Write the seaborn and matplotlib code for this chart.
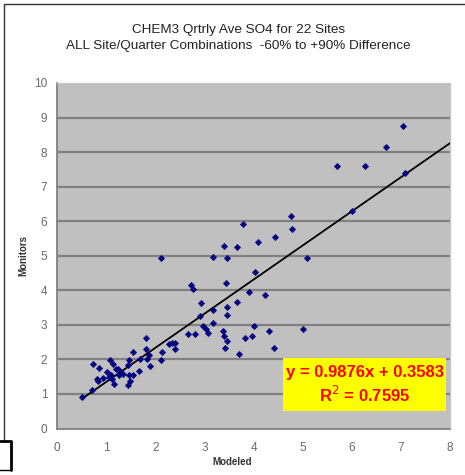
import matplotlib
matplotlib.use("Agg")
import matplotlib.pyplot as plt
import seaborn as sns
import pandas as pd
from matplotlib.patches import Rectangle
from matplotlib.lines import Line2D

# Quarterly average SO4: modeled vs monitored, all site/quarter combinations
modeled = [0.50, 0.71, 0.74, 0.86, 0.82, 0.84, 0.94, 1.07, 1.15, 1.02, 1.05, 1.09,
           1.11, 1.16, 1.20, 1.25, 1.26, 1.28, 1.35, 1.45, 1.47, 1.47, 1.49, 1.45,
           1.55, 1.55, 1.66, 1.69, 1.81, 1.81, 1.84, 1.88, 1.89, 2.11, 2.13, 2.12,
           2.29, 2.34, 2.40, 2.40, 2.67, 2.81, 2.72, 2.76, 2.93, 2.91, 2.98, 3.03,
           3.08, 3.17, 3.17, 3.18, 3.40, 3.67, 4.10, 4.44, 3.46, 3.44, 4.04, 3.90,
           4.24, 3.67, 3.46, 3.46, 3.37, 3.40, 3.46, 4.01, 3.96, 3.83, 4.32, 4.42,
           3.42, 3.71, 4.77, 4.79, 6.00, 3.78, 5.08, 5.00, 7.04, 6.69, 5.70, 6.27,
           7.09]
monitors = [0.92, 1.11, 1.86, 1.76, 1.42, 1.38, 1.47, 1.98, 1.87, 1.64, 1.50, 1.54,
            1.42, 1.29, 1.73, 1.71, 1.55, 1.60, 1.58, 1.83, 1.98, 1.55, 1.38, 1.26,
            2.21, 1.55, 1.67, 2.00, 2.61, 2.29, 2.00, 2.13, 1.81, 4.93, 2.22, 1.98,
            2.44, 2.47, 2.47, 2.30, 2.73, 2.73, 4.15, 4.03, 3.62, 3.26, 2.97, 2.87,
            2.77, 3.43, 3.04, 4.97, 5.28, 5.24, 5.41, 5.53, 4.93, 4.20, 4.52, 3.96,
            3.85, 3.67, 3.51, 3.29, 2.83, 2.68, 2.54, 2.97, 2.68, 2.63, 2.83, 2.32,
            2.32, 2.15, 6.16, 5.77, 6.30, 5.92, 4.94, 2.88, 8.76, 8.14, 7.60, 7.60,
            7.40]

# Linear trendline
slope = 0.9876
intercept = 0.3583
r_squared = 0.7595
trend_x = [0.5, 8.0]

x_ticks = list(range(0, 9))
y_ticks = list(range(0, 11))

title_lines = ["CHEM3 Qrtrly Ave SO4 for 22 Sites",
               "ALL Site/Quarter Combinations  -60% to +90% Difference"]

df = pd.DataFrame({"Modeled": modeled, "Monitors": monitors})
trend = pd.DataFrame({"x": trend_x, "y": [slope * v + intercept for v in trend_x]})

sns.set_theme(style="white")
plt.rcParams["font.family"] = ["Liberation Sans", "DejaVu Sans"]

W, H = 465, 475
fig = plt.figure(figsize=(W / 100, H / 100), dpi=100)
ax = fig.add_axes([57 / W, 1 - 428.5 / H, (450 - 57) / W, (428.5 - 83) / H])
ax.set_facecolor("#C0C0C0")

for yv in y_ticks[1:]:
    ax.axhline(yv, color="#808080", lw=1.6, zorder=1)

sns.lineplot(data=trend, x="x", y="y", ax=ax, color="black", lw=1.3,
             zorder=3, legend=False)
sns.scatterplot(data=df, x="Modeled", y="Monitors", ax=ax, marker="D",
                s=11, color="#000080", edgecolor="#000080", linewidth=0.3,
                zorder=4, legend=False)

ax.set_xlim(0, 8)
ax.set_ylim(0, 10)
ax.set_xticks(x_ticks)
ax.set_yticks(y_ticks)
ax.tick_params(axis="both", direction="out", length=4, width=1,
               color="#808080", labelcolor="#6A6A6A", labelsize=8.5, pad=3)
ax.tick_params(axis="x", pad=6)
for side in ["left", "bottom"]:
    ax.spines[side].set_color("#808080")
    ax.spines[side].set_linewidth(1.3)
for side in ["top", "right"]:
    ax.spines[side].set_color("#C8C8C8")
    ax.spines[side].set_linewidth(1.0)
ax.set_xlabel("")
ax.set_ylabel("")

fig.text(232 / W, 1 - 462 / H, "Modeled", ha="center", va="center",
         fontsize=7, fontweight="bold", color="#333333")
fig.text(23 / W, 1 - 256 / H, "Monitors", ha="center", va="center",
         rotation=90, fontsize=7, fontweight="bold", color="#333333")

fig.text(239 / W, 1 - 30 / H, title_lines[0], ha="center", va="center",
         fontsize=9.7, color="#222222")
fig.text(238 / W, 1 - 45.5 / H, title_lines[1], ha="center", va="center",
         fontsize=9.7, color="#222222")

# Equation box
ax.add_patch(Rectangle((4.60, 0.51), 3.32, 1.53, facecolor="#FFFF00",
                       edgecolor="none", zorder=5))
ax.text(6.26, 1.62, f"y = {slope:.4f}x + {intercept:.4f}", ha="center",
        va="center", fontsize=12, fontweight="bold", color="#FF0000", zorder=6)
ax.text(6.26, 0.98, f"R$^2$ = {r_squared:.4f}", ha="center", va="center",
        fontsize=12, fontweight="bold", color="#FF0000", zorder=6)

# Chart frame
fig.add_artist(Line2D([3.5 / W, 3.5 / W], [1 - 3.5 / H, 1 - 440 / H],
                      color="#333333", lw=1.0, transform=fig.transFigure))
fig.add_artist(Line2D([3.5 / W, 1.0], [1 - 3.5 / H, 1 - 3.5 / H],
                      color="#333333", lw=1.0, transform=fig.transFigure))
fig.add_artist(Line2D([0, 11 / W, 11 / W], [1 - 441 / H, 1 - 441 / H, 1 - 470 / H],
                      color="black", lw=2.0, transform=fig.transFigure))
fig.add_artist(Line2D([0, 11 / W], [1 - 470 / H, 1 - 470 / H],
                      color="black", lw=1.0, transform=fig.transFigure))

fig.savefig("out.png", dpi=100, facecolor="white")
